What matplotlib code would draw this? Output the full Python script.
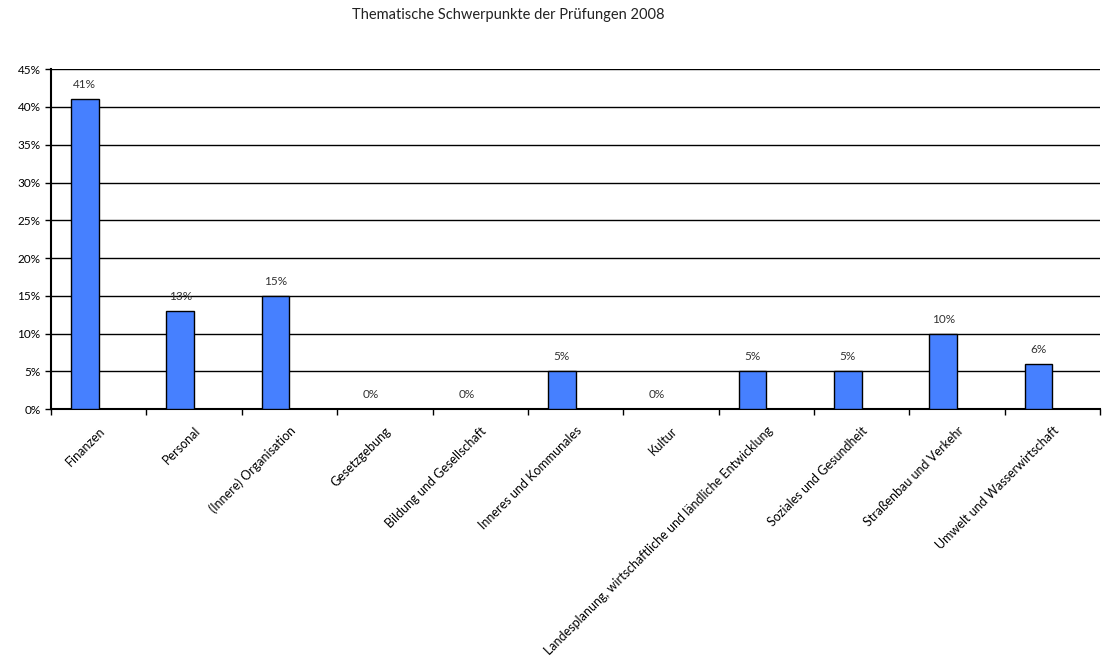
import matplotlib.pyplot as plt
import numpy as np

kategorien = ['Finanzen', 'Personal', '(Innere) Organisation', 'Gesetzgebung',
              'Bildung und Gesellschaft', 'Inneres und Kommunales', 'Kultur',
              'Landesplanung, wirtschaftliche und ländliche Entwicklung',
              'Soziales und Gesundheit', 'Straßenbau und Verkehr',
              'Umwelt und Wasserwirtschaft']
anteile = [41, 13, 15, 0, 0, 5, 0, 5, 5, 10, 6]
yticks = [0, 5, 10, 15, 20, 25, 30, 35, 40, 45]

plt.rcParams['font.family'] = ['Lato', 'DejaVu Sans']

fig = plt.figure(figsize=(11.02, 6.59), dpi=100)
ax = fig.add_axes([0.0463, 0.379, 0.952, 0.516])

x = np.arange(len(kategorien))
# bars sit left of the slot centre (excel-style with an empty second series)
bars = ax.bar(x, anteile, width=-0.29, align='edge', color='#4680FF',
              edgecolor='black', linewidth=1, zorder=3)
for xi, v in zip(x, anteile):
    ax.text(xi - 0.145, v + 1.2, f'{v}%', ha='center', va='bottom', fontsize=8.5, color='#333333')

ax.set_xlim(-0.5, len(kategorien) - 0.5)
ax.set_ylim(0, 45)
ax.set_yticks(yticks)
ax.set_yticklabels([f'{t}%' for t in yticks], fontsize=8.5)
ax.yaxis.grid(True, color='black', linewidth=1, zorder=0)
ax.set_axisbelow(True)

# ticks between categories, labels centered
ax.set_xticks(np.arange(len(kategorien) + 1) - 0.5, minor=False)
ax.set_xticklabels([])
ax.set_xticks(x, minor=True)
ax.set_xticklabels(kategorien, minor=True, rotation=45, ha='right', rotation_mode='anchor', fontsize=9)
ax.tick_params(axis='x', which='minor', length=0, pad=11)
ax.tick_params(axis='x', which='major', length=4, direction='out', width=1)
ax.tick_params(axis='y', length=4, width=1)

for s in ['top', 'right']:
    ax.spines[s].set_visible(False)
ax.spines['left'].set_linewidth(1.5)
ax.spines['bottom'].set_linewidth(1.5)

fig.text(0.461, 0.977, 'Thematische Schwerpunkte der Prüfungen 2008', ha='center', va='center', fontsize=10.5, color='#222222')

fig.savefig('out.png', dpi=100)
